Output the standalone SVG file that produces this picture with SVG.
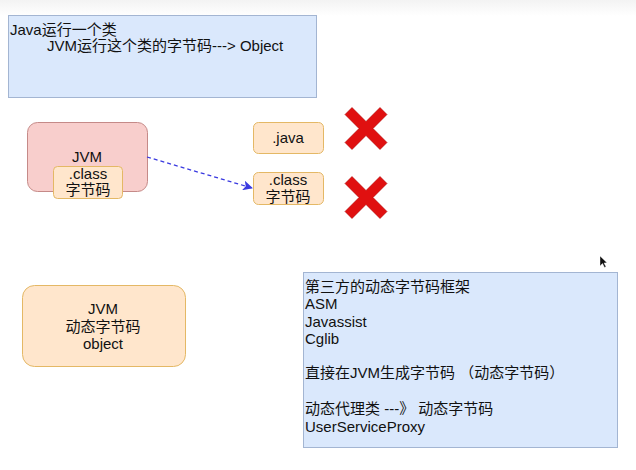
<svg xmlns="http://www.w3.org/2000/svg" width="636" height="470" viewBox="0 0 636 470">
<defs>
<linearGradient id="topband" x1="0" y1="0" x2="0" y2="1">
<stop offset="0" stop-color="#f3f3f3"/>
<stop offset="1" stop-color="#ffffff"/>
</linearGradient>
<marker id="arr" markerWidth="10" markerHeight="10" refX="9" refY="5" orient="auto" markerUnits="userSpaceOnUse">
<path d="M0,0 L10,5 L0,10 L2.5,5 Z" fill="#3a3ae0"/>
</marker>
<style>
text{font-family:"Liberation Sans","Noto Sans CJK SC",Arial,sans-serif;font-size:15px;fill:#111}
.c{text-anchor:middle}
.blue{fill:#dae8fc;stroke:#a3b5d2;stroke-width:1}
.pink{fill:#f8cecc;stroke:#c58a88;stroke-width:1}
.orange{fill:#ffe6cc;stroke:#e4b865;stroke-width:1}
.x{fill:#e01010;stroke:#b00000;stroke-width:0.6}
</style>
</defs>
<rect x="0" y="0" width="636" height="470" fill="#ffffff"/>
<rect x="0" y="0" width="636" height="16" fill="url(#topband)"/>

<g id="note-top">
<rect class="blue" x="8.5" y="15.5" width="308" height="82"/>
<text x="10" y="35">Java运行一个类</text>
<text x="47" y="51">JVM运行这个类的字节码---&gt; Object</text>
</g>

<g id="jvm">
<rect class="pink" x="27.5" y="122.5" width="120" height="69" rx="10"/>
<text class="c" x="87" y="162">JVM</text>
</g>

<g id="jvm-class">
<rect class="orange" x="53.5" y="166.5" width="69" height="32" rx="4"/>
<text class="c" x="88" y="179">.class</text>
<text class="c" x="88" y="195">字节码</text>
</g>

<g id="java-file">
<rect class="orange" x="253.5" y="122.5" width="70" height="31" rx="5"/>
<text class="c" x="288" y="143">.java</text>
</g>

<g id="class-file">
<rect class="orange" x="253.5" y="172.5" width="70" height="32" rx="5"/>
<text class="c" x="288" y="185">.class</text>
<text class="c" x="288" y="202">字节码</text>
</g>

<g id="x1">
<polygon class="x" transform="translate(366,128.5)" points="-21,-14 -14,-21 0,-7 14,-21 21,-14 7,0 21,14 14,21 0,7 -14,21 -21,14 -7,0"/>
</g>
<g id="x2">
<polygon class="x" transform="translate(366,197.5)" points="-21,-14 -14,-21 0,-7 14,-21 21,-14 7,0 21,14 14,21 0,7 -14,21 -21,14 -7,0"/>
</g>

<g id="jvm-dynamic">
<rect class="orange" x="22.5" y="285.5" width="163" height="81" rx="12"/>
<text class="c" x="103" y="314">JVM</text>
<text class="c" x="103" y="332">动态字节码</text>
<text class="c" x="103" y="349">object</text>
</g>

<g id="note-right">
<rect class="blue" x="303.5" y="272.5" width="314" height="175"/>
<text x="305" y="292">第三方的动态字节码框架</text>
<text x="305" y="309">ASM</text>
<text x="305" y="327">Javassist</text>
<text x="305" y="344">Cglib</text>
<text x="305" y="378">直接在JVM生成字节码 （动态字节码）</text>
<text x="305" y="414">动态代理类 ---》 动态字节码</text>
<text x="305" y="432">UserServiceProxy</text>
</g>

<g id="connectors">
<line x1="147" y1="157" x2="252" y2="188" stroke="#3a3ae0" stroke-width="1.3" stroke-dasharray="4,3" marker-end="url(#arr)"/>
</g>

<g id="cursor">
<polygon points="600,256 600,266 602.5,263.5 604.5,267.5 606,266.8 604,263 607,262.8" fill="#111" stroke="#fff" stroke-width="0.4"/>
</g>
</svg>
